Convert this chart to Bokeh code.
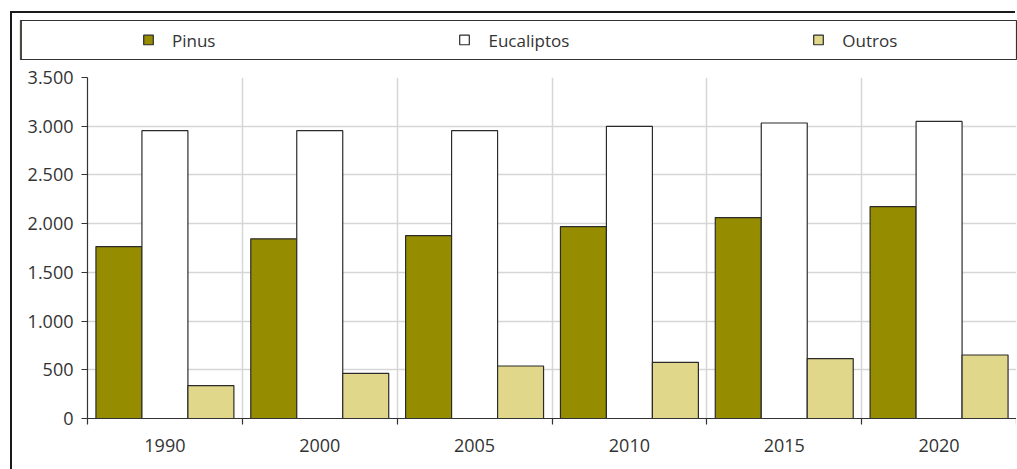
from bokeh.plotting import figure
from bokeh.models import ColumnDataSource, Range1d, FixedTicker, Legend, LegendItem
from bokeh.transform import dodge
from bokeh.embed import file_html
from bokeh.resources import INLINE

# ---- data ----
years = ["1990", "2000", "2005", "2010", "2015", "2020"]
pinus = [1765, 1844, 1878, 1970, 2062, 2175]
eucaliptos = [2954, 2954, 2954, 2998, 3033, 3049]
outros = [338, 464, 539, 577, 615, 652]
y_ticks = [0, 500, 1000, 1500, 2000, 2500, 3000, 3500]
y_tick_labels = ["0", "500", "1.000", "1.500", "2.000", "2.500", "3.000", "3.500"]
series_names = ["Pinus", "Eucaliptos", "Outros"]
series_colors = ["#968c00", "#ffffff", "#e0d78a"]

FONT = "Open Sans"
TEXT = "#333333"
EDGE = "#2b2b2b"
FRAME = "#1a1a1a"

centers = [i + 0.5 for i in range(len(years))]
src = ColumnDataSource(dict(x=centers, year=years, Pinus=pinus,
                            Eucaliptos=eucaliptos, Outros=outros))

bw = 0.297
offsets = [-bw, 0, bw]

# ---- legend strip (separate root) ----
pa = figure(width=1005, height=50, x_range=Range1d(100, 101),
            y_range=Range1d(0, 1), x_axis_type=None, y_axis_type=None,
            output_backend="svg", toolbar_location=None,
            min_border_left=8, min_border_right=1,
            min_border_top=7, min_border_bottom=4,
            margin=(13, 0, 0, 12),
            styles={"box-shadow": f"-2px 0 0 0 {FRAME}, -2px -2px 0 0 {FRAME}"})
pa.outline_line_color = "#333333"
pa.outline_line_width = 1.2
leg_renderers = []
for name, col, off in zip(series_names, series_colors, offsets):
    r = pa.vbar(x=dodge("x", off), top=name, width=bw, source=src,
                fill_color=col, line_color=EDGE, line_width=1.2)
    leg_renderers.append(r)
legend = Legend(items=[LegendItem(label=n, renderers=[r])
                       for n, r in zip(series_names, leg_renderers)],
                orientation="horizontal", location="left", margin=122,
                padding=0, spacing=243, glyph_width=12, glyph_height=12,
                label_standoff=18, border_line_color=None,
                background_fill_alpha=0, label_text_font=FONT,
                label_text_font_size="17px", label_text_color=TEXT)
pa.add_layout(legend)

# ---- main chart ----
p = figure(width=1004, height=406, x_range=Range1d(0, len(years)),
           y_range=Range1d(0, 3500), output_backend="svg",
           toolbar_location=None, min_border_left=75, min_border_right=0,
           min_border_top=14, min_border_bottom=51,
           margin=(0, 0, 0, 12),
           styles={"box-shadow": f"-2px 0 0 0 {FRAME}"})
p.outline_line_color = None

for name, col, off in zip(series_names, series_colors, offsets):
    p.vbar(x=dodge("x", off), top=name, width=bw, source=src,
           fill_color=col, line_color=EDGE, line_width=1.2)

p.xaxis.ticker = FixedTicker(ticks=centers,
                             minor_ticks=list(range(len(years) + 1)))
p.xaxis.major_label_overrides = {c: y for c, y in zip(centers, years)}
p.xaxis.major_tick_out = 0
p.xaxis.major_tick_in = 0
p.xaxis.minor_tick_out = 6
p.xaxis.minor_tick_in = 0
p.xaxis.minor_tick_line_color = "#333333"
p.xaxis.minor_tick_line_width = 1.2
p.xaxis.major_label_standoff = 14

p.yaxis.ticker = FixedTicker(ticks=y_ticks)
p.yaxis.major_label_overrides = dict(zip(y_ticks, y_tick_labels))
p.yaxis.major_tick_out = 6
p.yaxis.major_tick_in = 0
p.yaxis.minor_tick_line_color = None
p.yaxis.major_label_standoff = 8

for ax in (p.xaxis, p.yaxis):
    ax.axis_line_color = "#333333"
    ax.axis_line_width = 1.2
    ax.major_tick_line_color = "#333333"
    ax.major_tick_line_width = 1.2
    ax.major_label_text_font = FONT
    ax.major_label_text_font_size = "18px"
    ax.major_label_text_color = TEXT

p.xgrid.ticker = FixedTicker(ticks=list(range(1, len(years))))
p.ygrid.ticker = FixedTicker(ticks=y_ticks)
for g in (p.xgrid, p.ygrid):
    g.grid_line_color = "#d6d6d6"
    g.grid_line_width = 1.5

open("out.html", "w").write(file_html([pa, p], INLINE))
